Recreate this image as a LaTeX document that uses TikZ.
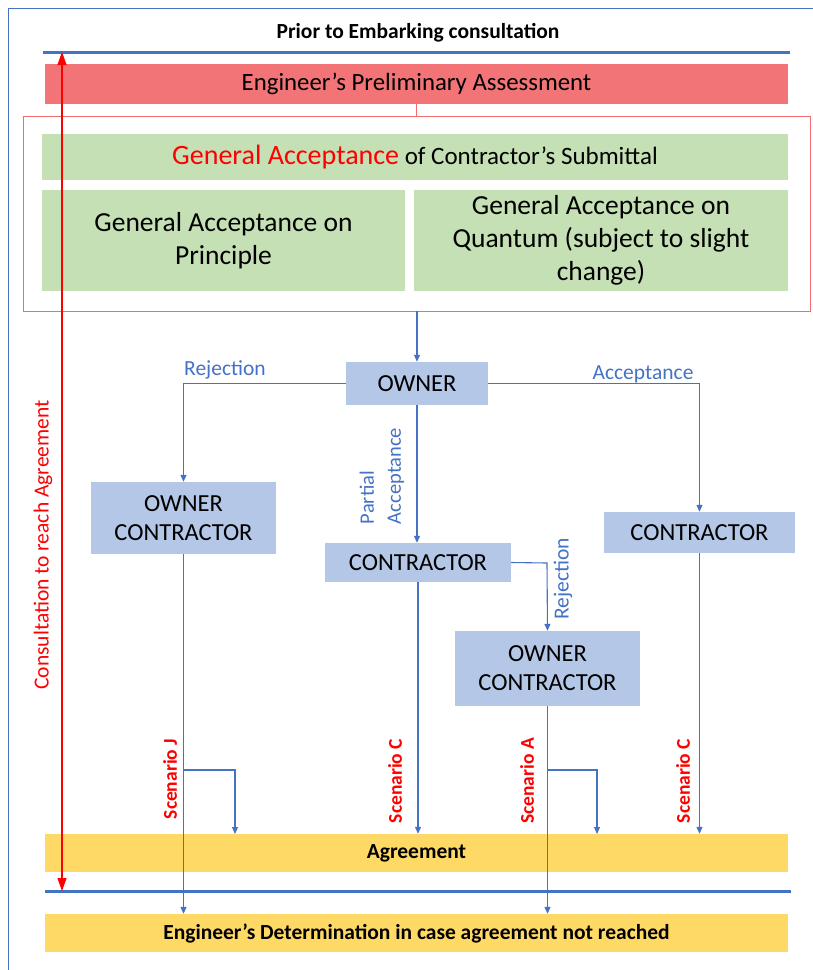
\documentclass[tikz,border=0pt]{standalone}
\usepackage{fontspec}
\setmainfont{Carlito}
\usetikzlibrary{arrows.meta,calc}
\definecolor{boxred}{RGB}{242,116,118}
\definecolor{framered}{RGB}{240,110,110}
\definecolor{boxgreen}{RGB}{197,224,180}
\definecolor{boxblue}{RGB}{180,199,231}
\definecolor{boxyellow}{RGB}{255,217,102}
\definecolor{lineblue}{RGB}{68,114,196}
\definecolor{txtred}{RGB}{255,0,0}
\tikzset{
  plainbox/.style={rectangle, inner sep=0pt, align=center, text=black},
  redbox/.style={plainbox, fill=boxred},
  greenbox/.style={plainbox, fill=boxgreen},
  bluebox/.style={plainbox, fill=boxblue},
  yellowbox/.style={plainbox, fill=boxyellow},
  conn/.style={draw=lineblue, line width=1.1pt},
  arr/.style={conn, -{Triangle[length=7pt,width=6pt]}},
  bluelabel/.style={text=lineblue, inner sep=1pt, font=\fontsize{21.5}{25}\selectfont},
  scen/.style={text=txtred, rotate=90, inner sep=0pt, font=\fontsize{19.5}{23}\selectfont\bfseries},
  thickline/.style={draw=lineblue, line width=3pt},
}
\begin{document}
\begin{tikzpicture}[x=1pt,y=-1pt]
\useasboundingbox (0,0) rectangle (812,970);
% outer frame
\draw[lineblue, line width=0.8pt] (8,975) -- (8,8) -- (820,8);
% title
\node[font=\fontsize{21.5}{25}\selectfont\bfseries] (title) at (418,33) {Prior to Embarking consultation};
\coordinate (tl1) at (43,52); \coordinate (tl2) at (790,52);
\draw[thickline] (tl1) -- (tl2);
% preliminary assessment
\node[redbox, minimum width=743pt, minimum height=40pt, font=\fontsize{24.8}{28}\selectfont] (pre) at (416.5,84) {Engineer’s Preliminary Assessment};
% red outline group
\node[rectangle, draw=framered, line width=0.8pt, minimum width=787pt, minimum height=195pt, inner sep=0pt] (grp) at (416.5,213.5) {};
\draw[framered, line width=0.8pt] (pre.south) -- (pre.south |- grp.north);
\node[greenbox, minimum width=746pt, minimum height=46pt, font=\fontsize{25}{29}\selectfont] (ga) at (415,157) {{\fontsize{28}{32}\selectfont\color{txtred}General Acceptance} of Contractor’s Submittal};
\node[greenbox, minimum width=363pt, minimum height=101pt, font=\fontsize{27.5}{33.5}\selectfont] (gap) at (223.5,240.5) {General Acceptance on\\Principle};
\node[greenbox, minimum width=374pt, minimum height=101pt, font=\fontsize{27.5}{33}\selectfont] (gaq) at (601,240.5) {General Acceptance on\\Quantum (subject to slight\\change)};
% owner
\node[bluebox, minimum width=142pt, minimum height=43pt, font=\fontsize{24.5}{29}\selectfont] (owner) at (417,383.5) {OWNER};
\draw[arr] (grp.south -| owner.north) -- (owner.north);
\node[bluebox, minimum width=185pt, minimum height=72pt, font=\fontsize{24.5}{29}\selectfont] (oc1) at (183.5,518) {OWNER\\CONTRACTOR};
\node[bluebox, minimum width=186pt, minimum height=39pt, font=\fontsize{24.5}{29}\selectfont] (c2) at (418,562.5) {CONTRACTOR};
\node[bluebox, minimum width=191pt, minimum height=41pt, font=\fontsize{24.5}{29}\selectfont] (c3) at (699.5,532.5) {CONTRACTOR};
\node[bluebox, minimum width=185pt, minimum height=75pt, font=\fontsize{24.5}{29}\selectfont] (oc2) at (547.5,668.5) {OWNER\\CONTRACTOR};
% agreement and determination
\node[yellowbox, minimum width=743pt, minimum height=38pt, font=\fontsize{21.5}{25}\selectfont\bfseries] (agree) at (416.5,853) {Agreement};
\coordinate (bl1) at (45,891); \coordinate (bl2) at (791,891);
\draw[thickline] (bl1) -- (bl2);
\node[yellowbox, minimum width=743pt, minimum height=38pt, font=\fontsize{21.5}{25}\selectfont\bfseries] (det) at (416.5,933) {Engineer’s Determination in case agreement not reached};
% owner connectors
\draw[arr] (owner.west) -| (oc1.north);
\node[bluelabel] (lrej) at (225,370) {Rejection};
\draw[arr] (owner.east) -| (c3.north);
\node[bluelabel] (lacc) at (643,374) {Acceptance};
\draw[arr] (owner.south) -- (owner.south |- c2.north);
\node[bluelabel, rotate=90, align=left, font=\fontsize{20.5}{27}\selectfont] (lpart) at (382,476) {Partial\\Acceptance};
\coordinate (rejx) at (547,563);
\draw[arr] (c2.east) -- (rejx) -- (oc2.north);
\node[bluelabel, rotate=90] (lrej2) at (563,579) {Rejection};
% scenarios
\draw[arr] (oc1.south) -- (oc1.south |- det.north);
\coordinate (bJ) at (183,770); \coordinate (tJ) at (235,834);
\draw[arr] (bJ) -| (tJ);
\node[scen] (sJ) at (170,779) {Scenario J};
\draw[arr] (c2.south) -- (c2.south |- agree.north);
\node[scen] (sC1) at (395,781) {Scenario C};
\draw[arr] (oc2.south) -- (oc2.south |- det.north);
\coordinate (bA) at (547,770); \coordinate (tA) at (597,834);
\draw[arr] (bA) -| (tA);
\node[scen] (sA) at (527,781) {Scenario A};
\draw[arr] (c3.south) -- (c3.south |- agree.north);
\node[scen] (sC2) at (683,781) {Scenario C};
% consultation arrow
\draw[txtred, line width=1.2pt, {Triangle[length=13pt,width=9pt]}-{Triangle[length=13pt,width=9pt]}] (62,52) -- (62,891);
\node[text=txtred, rotate=90, font=\fontsize{21.5}{25}\selectfont] (cons) at (43,545) {Consultation to reach Agreement};
\end{tikzpicture}
\end{document}
